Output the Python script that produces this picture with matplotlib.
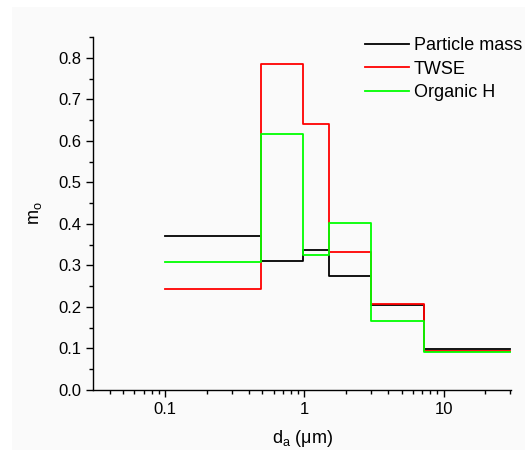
""" Size-resolved mass fraction step plot """

import matplotlib
matplotlib.use("Agg")
import matplotlib.pyplot as plt
from matplotlib.patches import Rectangle
from matplotlib.ticker import FixedLocator, MultipleLocator, NullFormatter

# bin edges (aerodynamic diameter, um)
edges = [0.1, 0.49, 0.97, 1.5, 3.0, 7.2, 30.0]

# per-bin values
particle_mass = [0.371, 0.310, 0.337, 0.275, 0.204, 0.099]
twse          = [0.244, 0.786, 0.640, 0.333, 0.208, 0.095]
organic_h     = [0.308, 0.616, 0.325, 0.401, 0.166, 0.091]

series = [("Particle mass", particle_mass, "black"),
          ("TWSE",          twse,          "#ff0000"),
          ("Organic H",     organic_h,     "#00ff00")]

x_ticks  = [0.1, 1, 10]
x_labels = ["0.1", "1", "10"]

plt.rcParams["font.family"] = ["Liberation Sans", "DejaVu Sans"]

fig = plt.figure(figsize=(5.25, 4.5), dpi=100)
fig.patch.set_facecolor("white")
# light grey panel behind the plot
fig.patches.append(Rectangle((12 / 525, 0), 1 - 12 / 525, 1 - 7 / 450,
                             transform=fig.transFigure, facecolor="#fafafa",
                             edgecolor="none", zorder=-10))

ax = fig.add_axes([93 / 525, 1 - 390 / 450, (511 - 93) / 525, (390 - 37) / 450])
ax.set_facecolor("none")

# draw the steps (repeat last value so the final bin is closed)
for name, vals, col in series:
    ax.step(edges, vals + [vals[-1]], where="post", color=col, lw=1.3, label=name)

ax.set_xscale("log")
ax.set_xlim(0.0303, 30.5)
ax.set_ylim(0, 0.85)

ax.xaxis.set_major_locator(FixedLocator(x_ticks))
ax.set_xticklabels(x_labels)
ax.xaxis.set_minor_formatter(NullFormatter())
ax.yaxis.set_major_locator(MultipleLocator(0.1))
ax.yaxis.set_minor_locator(MultipleLocator(0.05))
ax.yaxis.set_major_formatter(plt.FormatStrFormatter("%.1f"))

for side in ["top", "right"]:
    ax.spines[side].set_visible(False)
for side in ["left", "bottom"]:
    ax.spines[side].set_linewidth(1.0)
ax.tick_params(which="major", direction="out", length=5, width=1, labelsize=12)
ax.tick_params(which="minor", direction="out", length=3, width=1)

ax.set_xlabel(r"d$_\mathregular{a}$ ($\mathregular{\mu}$m)", fontsize=13, labelpad=8)
ax.set_ylabel(r"m$_\mathregular{o}$", fontsize=13, labelpad=10)

ax.legend(loc="upper left", bbox_to_anchor=(358 / 525, 1 - 30 / 450),
          bbox_transform=fig.transFigure, frameon=False, fontsize=13,
          handlelength=2.4, handletextpad=0.3, labelspacing=0.35,
          borderaxespad=0)

fig.savefig("out.png", dpi=100)
